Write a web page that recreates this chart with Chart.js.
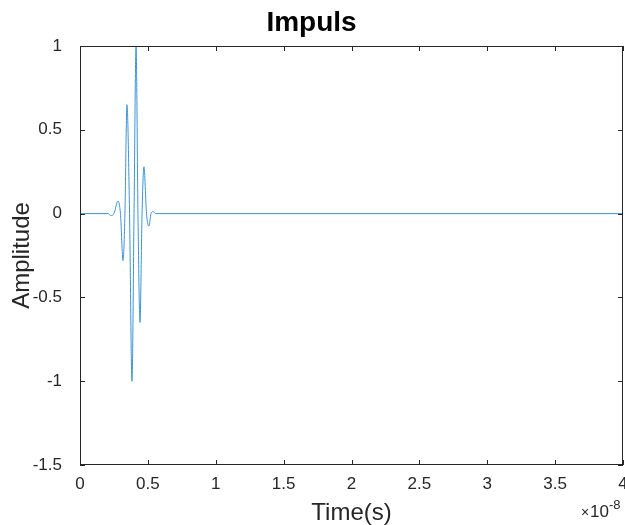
<!DOCTYPE html>
<html>
<head>
<meta charset="utf-8">
<script src="https://cdn.jsdelivr.net/npm/chart.js@4.4.0/dist/chart.umd.min.js"></script>
<style>
  html, body { margin: 0; padding: 0; background: #fff; }
</style>
</head>
<body>
<canvas id="impulsChart" width="625" height="525"></canvas>
<script>
// time axis in units of 1e-8 s (exponent shown at the bottom right)
const timeVals = [0, 0.206, 0.228, 0.250, 0.280, 0.298, 0.317, 0.331, 0.346, 0.365, 0.383, 0.398,
                  0.413, 0.427, 0.442, 0.457, 0.471, 0.490, 0.508, 0.523, 0.538, 0.560, 4];
const amplitude = [0, 0, -0.012, 0, 0.075, 0, -0.28, 0, 0.65, 0, -1.0, 0,
                   1.0, 0, -0.65, 0, 0.28, 0, -0.075, 0, 0.012, 0, 0];
const xTicks = [0, 0.5, 1, 1.5, 2, 2.5, 3, 3.5, 4];
const yTicks = [-1.5, -1, -0.5, 0, 0.5, 1];

const axisColor = '#262626';
const fontFamily = "'Liberation Sans', Arial, Helvetica, sans-serif";
Chart.defaults.font.family = fontFamily;

// box round the plot, inner ticks on all four sides, and the x10^-8 exponent
const matlabAxes = {
    id: 'matlabAxes',
    afterDraw(chart) {
        const { ctx, chartArea: a, scales: { x, y } } = chart;
        const tick = 5;
        ctx.save();
        ctx.strokeStyle = axisColor;
        ctx.lineWidth = 1;
        ctx.strokeRect(a.left + 0.5, a.top + 0.5, a.right - a.left - 1, a.bottom - a.top - 1);
        ctx.beginPath();
        xTicks.forEach(v => {
            const px = Math.round(x.getPixelForValue(v)) + 0.5;
            ctx.moveTo(px, a.bottom); ctx.lineTo(px, a.bottom - tick);
            ctx.moveTo(px, a.top); ctx.lineTo(px, a.top + tick);
        });
        yTicks.forEach(v => {
            const py = Math.round(y.getPixelForValue(v)) + 0.5;
            ctx.moveTo(a.left, py); ctx.lineTo(a.left + tick, py);
            ctx.moveTo(a.right, py); ctx.lineTo(a.right - tick, py);
        });
        ctx.stroke();

        ctx.fillStyle = axisColor;
        ctx.textBaseline = 'alphabetic';
        ctx.textAlign = 'left';
        ctx.font = `14px ${fontFamily}`;
        ctx.fillText('\u00d7', 581, 517);
        ctx.font = `17px ${fontFamily}`;
        ctx.fillText('10', 590, 517);
        ctx.font = `13px ${fontFamily}`;
        ctx.fillText('-8', 609, 509);
        ctx.restore();
    }
};

new Chart(document.getElementById('impulsChart'), {
    type: 'line',
    data: {
        datasets: [{
            label: 'Impuls',
            data: timeVals.map((t, i) => ({ x: t, y: amplitude[i] })),
            borderColor: '#3d93d6',
            borderWidth: 1,
            pointRadius: 0,
            cubicInterpolationMode: 'monotone'
        }]
    },
    options: {
        responsive: false,
        animation: false,
        layout: { padding: { left: 0, right: 2, top: 0, bottom: 0 } },
        plugins: {
            legend: { display: false },
            tooltip: { enabled: false },
            title: {
                display: true,
                text: 'Impuls',
                color: '#000',
                font: { size: 28, weight: 'bold' },
                padding: { top: 6, bottom: 6.4 }
            }
        },
        scales: {
            x: {
                type: 'linear',
                min: 0,
                max: 4,
                grid: { display: false },
                border: { display: false },
                afterBuildTicks(scale) { scale.ticks = xTicks.map(v => ({ value: v })); },
                ticks: {
                    color: axisColor,
                    font: { size: 17 },
                    padding: 1,
                    maxRotation: 0,
                    autoSkip: false,
                    callback: v => String(v)
                },
                title: {
                    display: true,
                    text: 'Time(s)',
                    color: axisColor,
                    font: { size: 24, lineHeight: 1 },
                    padding: { top: 0, bottom: 0 }
                },
                afterFit(scale) {
                    scale.height = 60;
                    scale.paddingLeft = 0;
                    scale.paddingRight = 0;
                }
            },
            y: {
                type: 'linear',
                min: -1.5,
                max: 1,
                grid: { display: false },
                border: { display: false },
                afterBuildTicks(scale) { scale.ticks = yTicks.map(v => ({ value: v })); },
                ticks: {
                    color: axisColor,
                    font: { size: 17 },
                    padding: 10,
                    callback: v => String(v)
                },
                title: {
                    display: true,
                    text: 'Amplitude',
                    color: axisColor,
                    font: { size: 24, lineHeight: 1 },
                    padding: { top: 10, bottom: 0 }
                },
                afterFit(scale) {
                    scale.width = 80;
                    scale.paddingTop = 0;
                    scale.paddingBottom = 0;
                }
            }
        }
    },
    plugins: [matlabAxes]
});
</script>
</body>
</html>
